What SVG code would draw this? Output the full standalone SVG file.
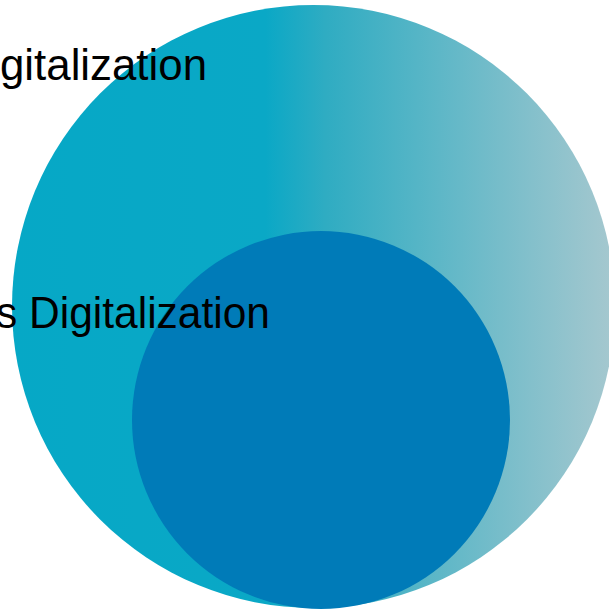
<svg xmlns="http://www.w3.org/2000/svg" width="609" height="611" viewBox="0 0 609 611">
<style>
.lbl{font-family:"Liberation Sans","DejaVu Sans",sans-serif;font-size:44px;fill:#000}
</style>
<defs>
<linearGradient id="g1" gradientUnits="userSpaceOnUse" x1="12" y1="0" x2="615" y2="0">
<stop offset="0" stop-color="#06A8C6"/>
<stop offset="0.42" stop-color="#0AA8C6"/>
<stop offset="0.52" stop-color="#2FACC2"/>
<stop offset="1" stop-color="#A6C8CF"/>
</linearGradient>
</defs>
<rect width="609" height="611" fill="#fff"/>
<g id="outer"><circle cx="313.5" cy="306.5" r="301.5" fill="url(#g1)"/></g>
<g id="inner"><circle cx="321" cy="420" r="189" fill="#007BB8"/></g>
<g id="labels">
<text class="lbl" x="0" y="80" textLength="207" lengthAdjust="spacingAndGlyphs">gitalization</text>
<text class="lbl" x="-4" y="328" textLength="274" lengthAdjust="spacingAndGlyphs">s Digitalization</text>
</g>
<g id="connectors"/>
</svg>
